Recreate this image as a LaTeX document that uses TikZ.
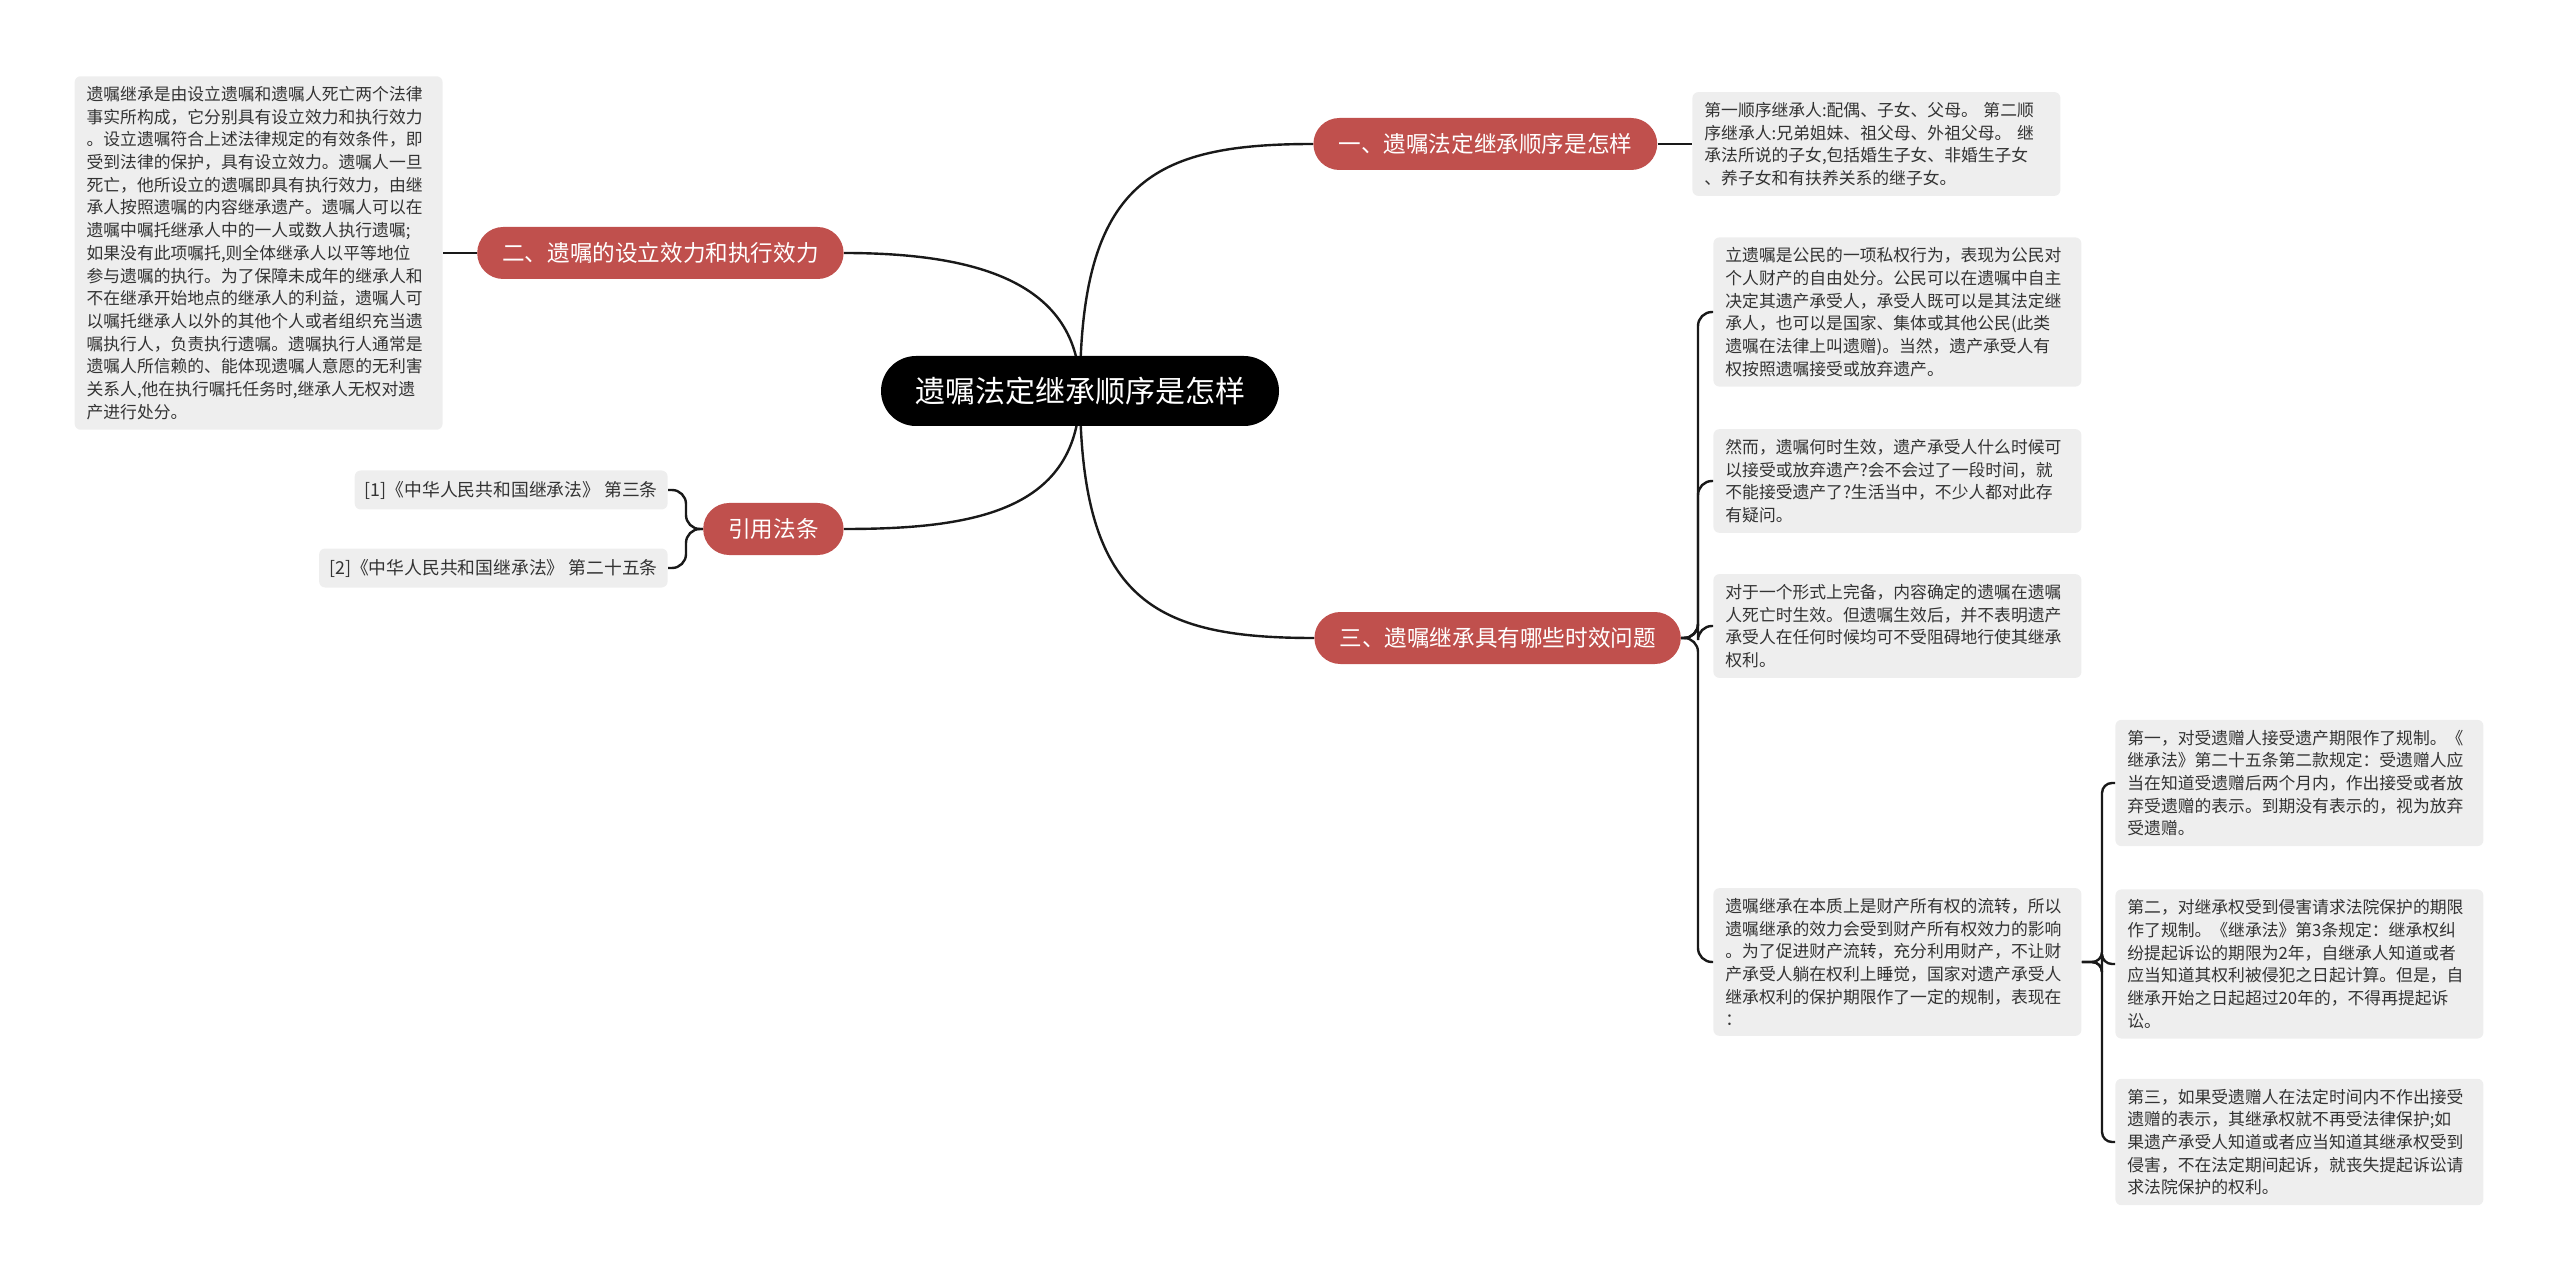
\documentclass[tikz,border=0pt]{standalone}
\usepackage{fontspec}
\setmainfont{Noto Sans CJK SC}
\usetikzlibrary{positioning, backgrounds}
\definecolor{branchred}{HTML}{C0504D}
\definecolor{leafgrey}{HTML}{EEEEEE}
\definecolor{inkgrey}{HTML}{333333}
\tikzset{
  mainbox/.style={fill=black, text=white, rounded corners=17.5pt, minimum height=35pt,
    inner xsep=17pt, font=\fontsize{15}{18}\selectfont},
  branchbox/.style={fill=branchred, text=white, rounded corners=13pt, minimum height=26pt,
    inner xsep=12.5pt, font=\fontsize{11.3}{13}\selectfont},
  leafbox/.style={fill=leafgrey, text=inkgrey, rounded corners=3pt, text width=172pt,
    align=left, inner xsep=6pt, inner ysep=5pt, font=\fontsize{8.4}{11.35}\selectfont},
  citebox/.style={fill=leafgrey, text=inkgrey, rounded corners=3pt, inner xsep=5pt,
    minimum height=19.5pt, font=\fontsize{8.9}{11.35}\selectfont},
  link/.style={draw=black!90, line width=1.2pt}
}

\begin{document}
\begin{tikzpicture}[x=0.5pt, y=-0.5pt]
\useasboundingbox (0,0) rectangle (2560,1283);

% centre and main branches
\node[mainbox] (zhu) at (1080,391) {遗嘱法定继承顺序是怎样};
\node[branchbox, anchor=west] (b1) at (1313,144) {一、遗嘱法定继承顺序是怎样};
\node[branchbox, anchor=east] (b2) at (844,253) {二、遗嘱的设立效力和执行效力};
\node[branchbox, anchor=west] (b3) at (1314,638) {三、遗嘱继承具有哪些时效问题};
\node[branchbox, anchor=east] (b4) at (844,529) {引用法条};

% leaves
\node[leafbox, anchor=west] (l1) at (1692,144) {第一顺序继承人:配偶、子女、父母。 第二顺\\序继承人:兄弟姐妹、祖父母、外祖父母。 继\\承法所说的子女,包括婚生子女、非婚生子女\\、养子女和有扶养关系的继子女。};
\node[leafbox, anchor=east] (l2) at (443,253) {遗嘱继承是由设立遗嘱和遗嘱人死亡两个法律\\事实所构成，它分别具有设立效力和执行效力\\。设立遗嘱符合上述法律规定的有效条件，即\\受到法律的保护，具有设立效力。遗嘱人一旦\\死亡，他所设立的遗嘱即具有执行效力，由继\\承人按照遗嘱的内容继承遗产。遗嘱人可以在\\遗嘱中嘱托继承人中的一人或数人执行遗嘱;\\如果没有此项嘱托,则全体继承人以平等地位\\参与遗嘱的执行。为了保障未成年的继承人和\\不在继承开始地点的继承人的利益，遗嘱人可\\以嘱托继承人以外的其他个人或者组织充当遗\\嘱执行人，负责执行遗嘱。遗嘱执行人通常是\\遗嘱人所信赖的、能体现遗嘱人意愿的无利害\\关系人,他在执行嘱托任务时,继承人无权对遗\\产进行处分。};
\node[leafbox, anchor=west] (l3a) at (1713,312) {立遗嘱是公民的一项私权行为，表现为公民对\\个人财产的自由处分。公民可以在遗嘱中自主\\决定其遗产承受人，承受人既可以是其法定继\\承人，也可以是国家、集体或其他公民(此类\\遗嘱在法律上叫遗赠)。当然，遗产承受人有\\权按照遗嘱接受或放弃遗产。};
\node[leafbox, anchor=west] (l3b) at (1713,481) {然而，遗嘱何时生效，遗产承受人什么时候可\\以接受或放弃遗产?会不会过了一段时间，就\\不能接受遗产了?生活当中，不少人都对此存\\有疑问。};
\node[leafbox, anchor=west] (l3c) at (1713,626) {对于一个形式上完备，内容确定的遗嘱在遗嘱\\人死亡时生效。但遗嘱生效后，并不表明遗产\\承受人在任何时候均可不受阻碍地行使其继承\\权利。};
\node[leafbox, anchor=west] (l3d) at (1713,962) {遗嘱继承在本质上是财产所有权的流转，所以\\遗嘱继承的效力会受到财产所有权效力的影响\\。为了促进财产流转，充分利用财产，不让财\\产承受人躺在权利上睡觉，国家对遗产承受人\\继承权利的保护期限作了一定的规制，表现在\\：};
\node[leafbox, anchor=west] (s1) at (2115,783) {第一，对受遗赠人接受遗产期限作了规制。《\\继承法》第二十五条第二款规定：受遗赠人应\\当在知道受遗赠后两个月内，作出接受或者放\\弃受遗赠的表示。到期没有表示的，视为放弃\\受遗赠。};
\node[leafbox, anchor=west] (s2) at (2115,964) {第二，对继承权受到侵害请求法院保护的期限\\作了规制。《继承法》第3条规定：继承权纠\\纷提起诉讼的期限为2年，自继承人知道或者\\应当知道其权利被侵犯之日起计算。但是，自\\继承开始之日起超过20年的，不得再提起诉\\讼。};
\node[leafbox, anchor=west] (s3) at (2115,1142) {第三，如果受遗赠人在法定时间内不作出接受\\遗赠的表示，其继承权就不再受法律保护;如\\果遗产承受人知道或者应当知道其继承权受到\\侵害，不在法定期间起诉，就丧失提起诉讼请\\求法院保护的权利。};
\node[citebox, anchor=east] (r1) at (668,490) {[1]《中华人民共和国继承法》 第三条};
\node[citebox, anchor=east] (r2) at (668,568) {[2]《中华人民共和国继承法》 第二十五条};

% junctions of the brackets
\coordinate (j3) at (1698,638);
\coordinate (jd) at (2102,962);
\coordinate (j4) at (686,529);

\begin{scope}[on background layer]
\draw[link] (zhu.center) .. controls +(0,-210) and +(-160,0) .. (b1.west);
\draw[link] (zhu.center) .. controls +(0,210) and +(-160,0) .. (b3.west);
\draw[link] (zhu.center) .. controls +(0,-110) and +(130,0) .. (b2.east);
\draw[link] (zhu.center) .. controls +(0,120) and +(130,0) .. (b4.east);
\end{scope}

\draw[link] (b1.east) -- (l1.west);
\draw[link] (b2.west) -- (l2.east);
\foreach \leaf in {l3a,l3b,l3c,l3d}
  \draw[link, rounded corners=7pt] (b3.east) -- (j3) |- (\leaf.west);
\foreach \leaf in {s1,s2,s3}
  \draw[link, rounded corners=5pt] (l3d.east) -- (jd) |- (\leaf.west);
\foreach \leaf in {r1,r2}
  \draw[link, rounded corners=7pt] (b4.west) -- (j4) |- (\leaf.east);
\end{tikzpicture}
\end{document}
